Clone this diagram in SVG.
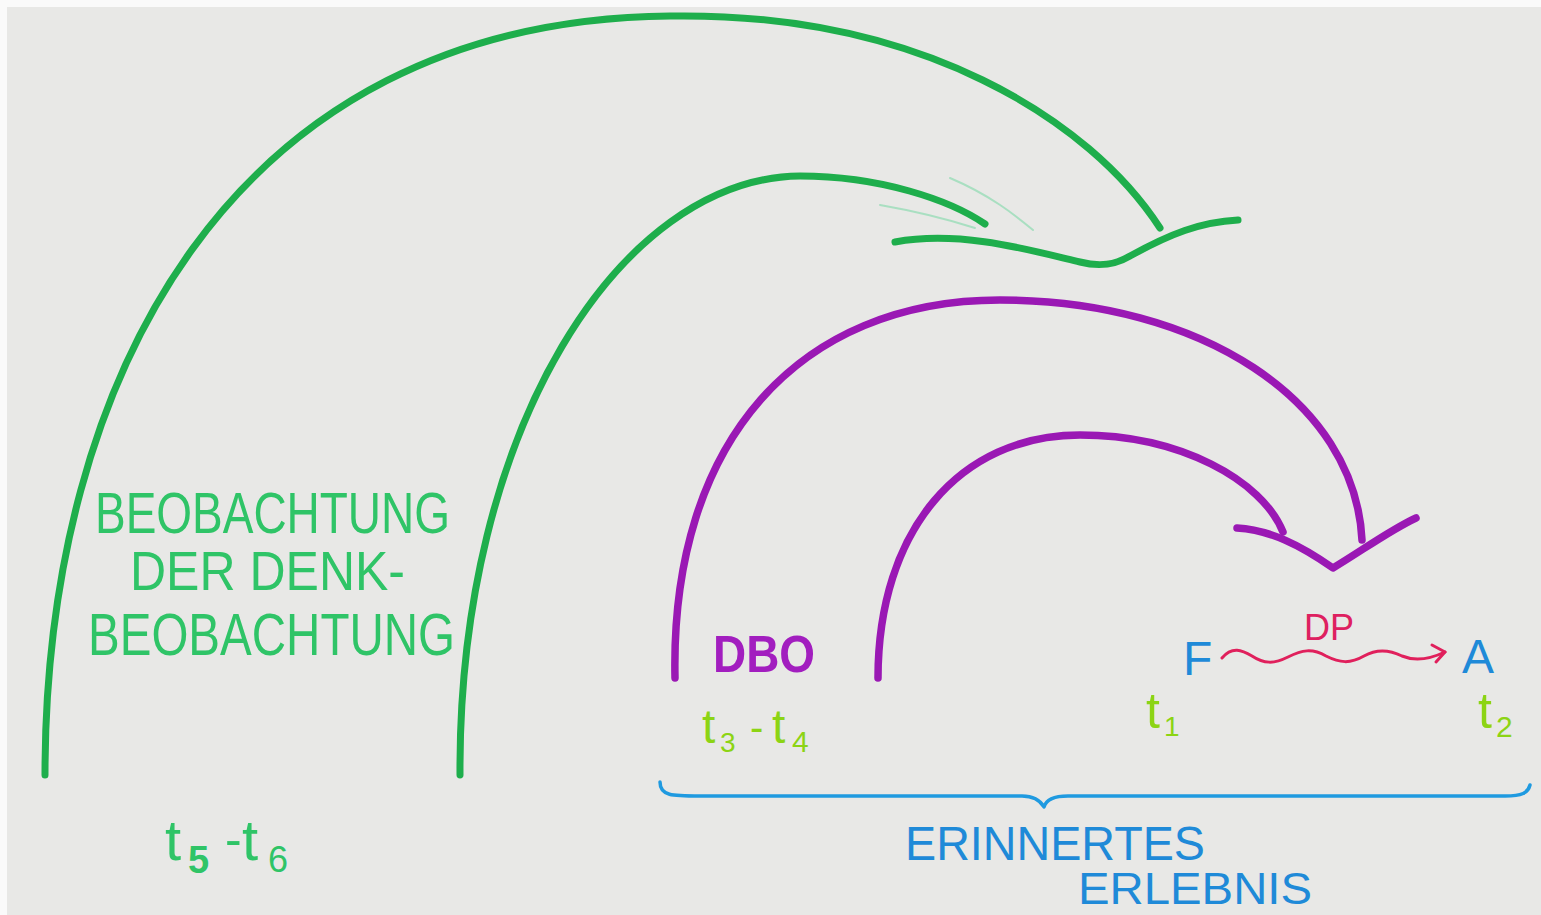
<svg xmlns="http://www.w3.org/2000/svg" width="1541" height="915" viewBox="0 0 1541 915">
<style>
.g{fill:none;stroke:#1eae4c;stroke-width:7;stroke-linecap:round}
.gf{fill:none;stroke:#7fd8a8;stroke-width:2;stroke-linecap:round;opacity:0.6}
.p{fill:none;stroke:#9a18b4;stroke-width:7.5;stroke-linecap:round;stroke-linejoin:round}
.b{fill:none;stroke:#1f9ae0;stroke-width:3.5;stroke-linecap:round;stroke-linejoin:round}
.r{fill:none;stroke:#e0205c;stroke-width:3;stroke-linecap:round;stroke-linejoin:round}
text{font-family:"Liberation Sans",Arial,sans-serif}
.tg{fill:#2fc467}
.tl{fill:#8cd414}
.tp{fill:#a21ebf}
.tb{fill:#1f8ad8}
.tr{fill:#de2060}
</style>
<rect x="0" y="0" width="1541" height="915" fill="#e8e8e6"/>
<rect x="0" y="0" width="1541" height="7" fill="#fafafa"/>
<rect x="0" y="0" width="7" height="915" fill="#fafafa"/>
<g id="connectors">
<path class="g" d="M45,775 C 45,380 230,20 670,16 C 920,12 1090,120 1160,228"/>
<path class="g" d="M460,775 C 458,430 620,178 800,176 C 880,176 950,200 985,224"/>
<path class="g" d="M895,242 C 960,230 1030,250 1080,262 C 1100,267 1115,265 1130,256 C 1170,234 1200,222 1238,220"/>
<path class="gf" d="M950,178 C 990,195 1015,215 1033,230"/>
<path class="gf" d="M880,205 C 920,212 950,220 975,228"/>
<path class="p" d="M675,678 C 670,440 800,300 1000,300 C 1200,300 1355,400 1362,540"/>
<path class="p" d="M878,678 C 878,530 960,435 1080,435 C 1180,435 1262,480 1283,532"/>
<path class="p" d="M1237,528 C 1270,530 1300,545 1333,568 C 1360,552 1390,530 1416,518"/>
<path class="b" d="M660,782 C 660,796 672,796 700,796 L 1022,796 C 1034,796 1040,800 1044,807 C 1046,800 1054,796 1068,796 L 1505,796 C 1522,796 1528,793 1530,785"/>
<path class="r" d="M1222,658 C 1232,646 1242,650 1252,656 C 1264,664 1274,664 1288,657 C 1302,650 1312,648 1326,656 C 1340,663 1350,664 1364,656 C 1378,648 1390,650 1402,656 C 1414,661 1428,660 1445,652"/>
<path class="r" d="M1432,645 L 1445,652 L 1436,662"/>
</g>
<g id="beobachtung">
<text class="tg" x="95" y="533" font-size="58" textLength="355" lengthAdjust="spacingAndGlyphs">BEOBACHTUNG</text>
<text class="tg" x="130" y="590" font-size="56" textLength="275" lengthAdjust="spacingAndGlyphs">DER DENK-</text>
<text class="tg" x="88" y="655" font-size="60" textLength="367" lengthAdjust="spacingAndGlyphs">BEOBACHTUNG</text>
</g>
<g id="t5t6">
<text class="tg" x="165" y="860" font-size="58">t</text>
<text class="tg" x="188" y="873" font-size="38" font-weight="bold">5</text>
<text class="tg" x="225" y="856" font-size="50">-</text>
<text class="tg" x="242" y="860" font-size="58">t</text>
<text class="tg" x="268" y="872" font-size="36">6</text>
</g>
<g id="dbo">
<text class="tp" x="713" y="672" font-size="52" font-weight="bold" textLength="102" lengthAdjust="spacingAndGlyphs">DBO</text>
</g>
<g id="t3t4">
<text class="tl" x="702" y="743" font-size="48">t</text>
<text class="tl" x="720" y="752" font-size="28">3</text>
<text class="tl" x="750" y="741" font-size="40">-</text>
<text class="tl" x="772" y="743" font-size="48">t</text>
<text class="tl" x="792" y="752" font-size="30">4</text>
</g>
<g id="F">
<text class="tb" x="1183" y="675" font-size="48">F</text>
</g>
<g id="t1">
<text class="tl" x="1146" y="728" font-size="50">t</text>
<text class="tl" x="1164" y="736" font-size="28">1</text>
</g>
<g id="DP">
<text class="tr" x="1304" y="640" font-size="36">DP</text>
</g>
<g id="A">
<text class="tb" x="1462" y="673" font-size="48">A</text>
</g>
<g id="t2">
<text class="tl" x="1478" y="728" font-size="50">t</text>
<text class="tl" x="1496" y="737" font-size="30">2</text>
</g>
<g id="erlebnis">
<text class="tb" x="905" y="860" font-size="48" textLength="300" lengthAdjust="spacingAndGlyphs">ERINNERTES</text>
<text class="tb" x="1078" y="904" font-size="44" textLength="234" lengthAdjust="spacingAndGlyphs">ERLEBNIS</text>
</g>
</svg>
